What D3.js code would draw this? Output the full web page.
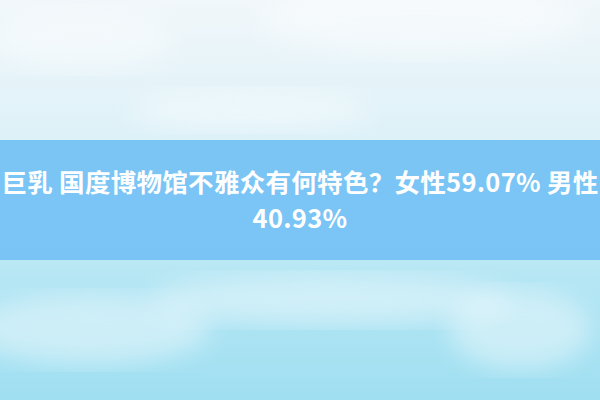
<!DOCTYPE html>
<html>
<head>
<meta charset="utf-8">
<title>banner</title>
<script src="https://cdn.jsdelivr.net/npm/d3@7"></script>
<style>
  html, body { margin: 0; padding: 0; background: #fff; }
  #chart { width: 600px; height: 400px; overflow: hidden; }
</style>
</head>
<body>
<div id="chart"></div>
<script>
// text pieces of the title
var titleHead = "巨乳 国度博物馆不雅众有何特色？";
var groups = ["女性", "男性"];
var shares = [59.07, 40.93];

var W = 600, H = 400;
var svg = d3.select("#chart").append("svg").attr("width", W).attr("height", H);
var defs = svg.append("defs");

// background sky gradient
var bg = defs.append("linearGradient").attr("id", "sky").attr("x1", "0%").attr("y1", "0%").attr("x2", "0%").attr("y2", "100%");
bg.append("stop").attr("offset", "0%").attr("stop-color", "#f1f7fa");
bg.append("stop").attr("offset", "35%").attr("stop-color", "#ddf1f8");
bg.append("stop").attr("offset", "70%").attr("stop-color", "#b5e6f4");
bg.append("stop").attr("offset", "100%").attr("stop-color", "#9fdff1");
svg.append("rect").attr("width", W).attr("height", H).attr("fill", "url(#sky)");

// soft cloud blobs
defs.append("filter").attr("id", "blur").append("feGaussianBlur").attr("stdDeviation", 12);
var clouds = [[80, 40, 90, 30], [420, 20, 160, 35], [250, 110, 120, 20], [90, 330, 120, 35], [520, 330, 70, 40], [330, 300, 180, 25]];
svg.append("g").selectAll("ellipse").data(clouds).enter().append("ellipse")
  .attr("cx", function (d) { return d[0]; }).attr("cy", function (d) { return d[1]; })
  .attr("rx", function (d) { return d[2]; }).attr("ry", function (d) { return d[3]; })
  .attr("fill", "#ffffff").attr("opacity", 0.4).attr("filter", "url(#blur)");

// blue band
svg.append("rect").attr("x", 0).attr("y", 140).attr("width", W).attr("height", 120)
  .attr("fill", "#77c3f5").attr("opacity", 0.96);

var fmt = d3.format(".2f");
var line1 = titleHead + groups[0] + fmt(shares[0]) + "% " + groups[1];
var line2 = fmt(shares[1]) + "%";

svg.append("g").selectAll("text").data([line1, line2]).enter().append("text")
  .attr("x", W / 2)
  .attr("y", function (d, i) { return 192 + i * 36; })
  .attr("text-anchor", "middle")
  .attr("fill", "#ffffff")
  .style("font-family", "'Noto Sans CJK SC', 'Noto Sans', sans-serif")
  .style("font-weight", "700")
  .style("font-size", "25.5px")
  .style("letter-spacing", "0.3px")
  .text(function (d) { return d; });
</script>
</body>
</html>
